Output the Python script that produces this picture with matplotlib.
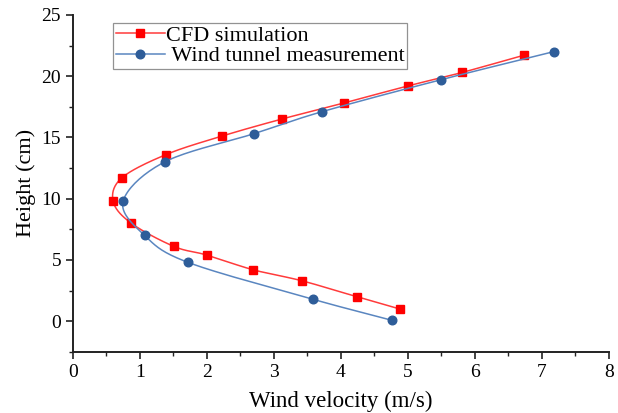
import numpy as np
import matplotlib.pyplot as plt
from matplotlib.ticker import MultipleLocator

# values
cfd_v = [4.88, 4.24, 3.42, 2.69, 2.00, 1.51, 0.87, 0.60, 0.73, 1.39, 2.22, 3.12, 4.04, 5.00, 5.81, 6.73]
cfd_h = [1.0, 2.0, 3.3, 4.2, 5.4, 6.1, 8.0, 9.8, 11.7, 13.6, 15.1, 16.5, 17.8, 19.2, 20.3, 21.7]
wt_v = [4.76, 3.58, 1.72, 1.07, 0.75, 1.37, 2.70, 3.72, 5.49, 7.18]
wt_h = [0.08, 1.8, 4.8, 7.0, 9.8, 13.0, 15.3, 17.1, 19.7, 22.0]


def smooth(xs, ys, n=20):
    # catmull-rom curve through the points, only for drawing the line
    p = np.column_stack([xs, ys])
    p = np.vstack([2 * p[0] - p[1], p, 2 * p[-1] - p[-2]])
    out = []
    t = np.linspace(0, 1, n, endpoint=False)[:, None]
    for i in range(1, len(p) - 2):
        p0, p1, p2, p3 = p[i - 1], p[i], p[i + 1], p[i + 2]
        seg = 0.5 * ((2 * p1) + (-p0 + p2) * t + (2 * p0 - 5 * p1 + 4 * p2 - p3) * t ** 2
                     + (-p0 + 3 * p1 - 3 * p2 + p3) * t ** 3)
        out.append(seg)
    out.append(p[-2][None, :])
    out = np.vstack(out)
    return out[:, 0], out[:, 1]


plt.rcParams['font.family'] = ['Liberation Serif', 'DejaVu Serif']

fig = plt.figure(figsize=(6.18, 4.13), dpi=100)
ax = fig.add_axes([0.118, 0.148, 0.867, 0.816])

red = '#ff0000'
blue = '#2e5d99'

sx, sy = smooth(cfd_v, cfd_h)
ax.plot(sx, sy, color='#ff3b3b', lw=1.1)
ax.plot(cfd_v, cfd_h, ls='none', marker='s', ms=5.4, color=red)
bx, by = smooth(wt_v, wt_h)
ax.plot(bx, by, color='#5a86c0', lw=1.1)
ax.plot(wt_v, wt_h, ls='none', marker='o', ms=6.2, color=blue)

# legend handles
ax.plot([], [], color='#ff3b3b', lw=1.1, marker='s', ms=5.4, mfc=red, mec=red, label='CFD simulation')
ax.plot([], [], color='#5a86c0', lw=1.1, marker='o', ms=6.2, mfc=blue, mec=blue, label=' Wind tunnel measurement')
h, l = ax.get_legend_handles_labels()
leg = ax.legend(h[-2:], l[-2:], loc='upper left', bbox_to_anchor=(0.075, 0.977), fontsize=16,
                frameon=True, fancybox=False, edgecolor='#777777', handlelength=2.2,
                borderpad=0.12, labelspacing=0.0, handletextpad=0.05, borderaxespad=0)
leg.get_frame().set_linewidth(0.9)

ax.set_xlim(0, 8)
ax.set_ylim(-2.5, 25)
ax.xaxis.set_major_locator(MultipleLocator(1))
ax.xaxis.set_minor_locator(MultipleLocator(0.5))
ax.yaxis.set_major_locator(MultipleLocator(5))
ax.yaxis.set_minor_locator(MultipleLocator(2.5))
ax.tick_params(which='major', length=5, width=1.2, labelsize=14, color='#222222')
ax.tick_params(which='minor', length=3, width=1.0, color='#222222')
for s in ['top', 'right']:
    ax.spines[s].set_visible(False)
for s in ['left', 'bottom']:
    ax.spines[s].set_linewidth(1.4)
    ax.spines[s].set_color('#222222')

ax.set_xlabel('Wind velocity (m/s)', fontsize=16.5, labelpad=7)
ax.set_ylabel('Height (cm)', fontsize=16, labelpad=4)

fig.savefig('out.png', dpi=100)
